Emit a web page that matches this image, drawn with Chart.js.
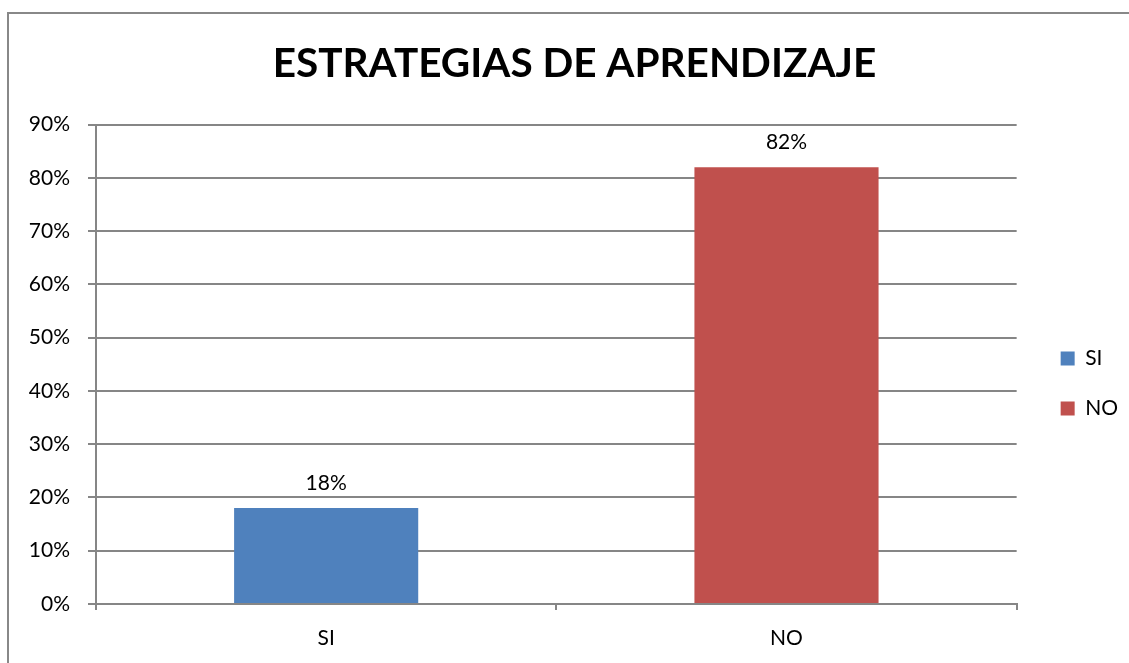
<!DOCTYPE html>
<html>
<head>
<meta charset="utf-8">
<script src="https://cdn.jsdelivr.net/npm/chart.js@4.4.1/dist/chart.umd.min.js"></script>
<style>
  html, body { margin: 0; padding: 0; background: #fff; overflow: hidden; }
</style>
</head>
<body>
<canvas id="c" width="1129" height="663"></canvas>
<script>
const categories = ['SI', 'NO'];
const siValues = [18, null];
const noValues = [null, 82];
const seriesNames = ['SI', 'NO'];
const seriesColors = ['#4F81BD', '#C0504D'];
const yTicks = [0, 10, 20, 30, 40, 50, 60, 70, 80, 90];

const AXIS = '#868686';
const FONT = 'Lato, Carlito, Calibri, sans-serif';

// frame of the chart object (only top/left edges are visible in the shot)
const frame = {
  id: 'frame',
  beforeDraw(chart) {
    const ctx = chart.ctx;
    ctx.save();
    ctx.strokeStyle = '#888888';
    ctx.lineWidth = 2;
    ctx.strokeRect(8, 13, 2000, 2000);
    ctx.restore();
  },
};

// the original chart object is wider than the window, so its title sits
// a bit right of centre and the legend lower/right than chart.js puts them
const nudge = {
  id: 'nudge',
  afterLayout(chart) {
    const lg = chart.legend;
    if (lg) {
      lg.left += 15; lg.right += 15;
      lg.top += 37; lg.bottom += 37;
    }
    const tb = chart.titleBlock;
    if (tb) { tb.left += 18; tb.right += 18; }
  },
};

// value labels above each bar
const barLabels = {
  id: 'barLabels',
  afterDatasetsDraw(chart) {
    const ctx = chart.ctx;
    ctx.save();
    ctx.font = '21px ' + FONT;
    ctx.fillStyle = '#000';
    ctx.textAlign = 'center';
    ctx.textBaseline = 'alphabetic';
    chart.data.datasets.forEach((ds, di) => {
      chart.getDatasetMeta(di).data.forEach((el, i) => {
        const v = ds.data[i];
        if (v == null) return;
        ctx.fillText(v + '%', el.x, el.y - 18);
      });
    });
    ctx.restore();
  },
};

new Chart(document.getElementById('c'), {
  type: 'bar',
  data: {
    labels: categories,
    datasets: [
      { label: seriesNames[0], data: siValues, backgroundColor: seriesColors[0] },
      { label: seriesNames[1], data: noValues, backgroundColor: seriesColors[1] },
    ],
  },
  plugins: [frame, nudge, barLabels],
  options: {
    responsive: false,
    animation: false,
    skipNull: true,
    barPercentage: 0.4,
    categoryPercentage: 1,
    layout: { padding: { top: 30, left: 0, right: 16, bottom: 0 } },
    plugins: {
      title: {
        display: true,
        text: 'ESTRATEGIAS DE APRENDIZAJE',
        color: '#000',
        font: { family: FONT, size: 40.5, weight: 'bold', lineHeight: 1.2 },
        padding: { top: 10, bottom: 36 },
      },
      legend: {
        position: 'right',
        labels: {
          color: '#000',
          font: { family: FONT, size: 21 },
          boxWidth: 14,
          boxHeight: 14,
          padding: 29,
        },
      },
      tooltip: { enabled: false },
    },
    scales: {
      x: {
        grid: { offset: true, drawOnChartArea: false, color: AXIS, tickLength: 6, lineWidth: 2 },
        border: { color: AXIS, width: 2 },
        ticks: { color: '#000', font: { family: FONT, size: 21 }, padding: 16 },
        afterFit: s => { s.height = 59; },
      },
      y: {
        min: 0,
        max: 90,
        afterBuildTicks: s => { s.ticks = yTicks.map(v => ({ value: v })); },
        grid: { color: AXIS, tickLength: 8, lineWidth: 2 },
        border: { color: AXIS, width: 2 },
        ticks: { color: '#000', font: { family: FONT, size: 21 }, padding: 18, callback: v => v + '%' },
        afterFit: s => { s.width = 96; },
      },
    },
  },
});
</script>
</body>
</html>
